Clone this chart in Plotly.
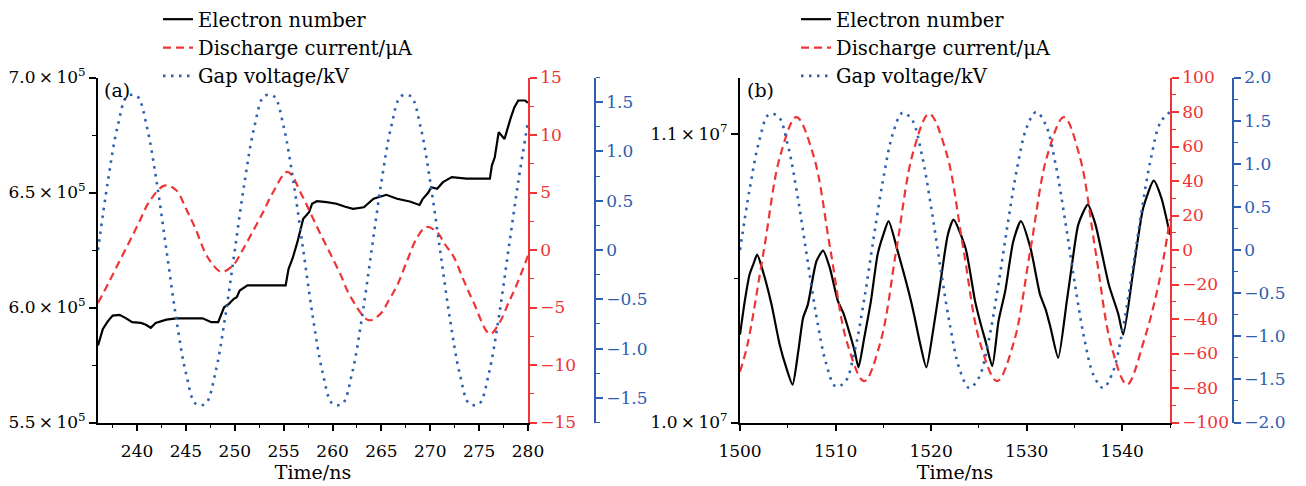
import plotly.graph_objects as go

# ---------------- Panel (a) data ----------------
t_a_volt = list(range(236, 281))
volt_a = [0, 0.69, 1.25, 1.56, 1.56, 1.25, 0.69, 0, -0.69, -1.25, -1.56, -1.56, -1.25, -0.69,
          0, 0.69, 1.25, 1.56, 1.56, 1.25, 0.69, 0, -0.69, -1.25, -1.56, -1.56, -1.25, -0.69,
          0, 0.69, 1.25, 1.56, 1.56, 1.25, 0.69, 0, -0.69, -1.25, -1.56, -1.56, -1.25, -0.69,
          0, 0.69, 1.3]

t_a_curr = [236.0, 237.0, 238.0, 239.2, 240.2, 241.25, 242.8, 244.0, 245.0, 246.0, 247.0, 247.6,
            248.6, 249.8, 250.8, 251.8, 252.9, 253.9, 255.4, 256.9, 257.8, 258.7, 259.7, 260.8,
            261.8, 263.7, 264.9, 265.8, 266.6, 267.6, 268.6, 269.6, 270.7, 271.5, 272.4, 273.4,
            274.4, 276.1, 277.1, 278.0, 278.8, 280.0]
curr_a = [-4.6, -3.0, -1.3, 0.7, 2.4, 4.2, 5.6, 5.2, 3.6, 1.8, -0.3, -1.1,
          -1.9, -1.35, 0.0, 1.55, 3.3, 5.0, 6.8, 4.7, 3.1, 1.5, -0.2, -2.1,
          -4.0, -6.1, -5.55, -4.3, -3.1, -1.0, 1.0, 2.0, 1.55, 0.5, -0.6, -2.6,
          -4.5, -7.3, -6.3, -4.6, -3.1, -0.5]

t_a_elec = [236.0, 236.5, 237.0, 237.5, 238.2, 238.8, 239.5, 240.4, 240.9, 241.4, 241.9, 242.4,
            243.0, 244.0, 245.5, 246.7, 247.6, 248.3, 248.9, 249.4, 249.9, 250.2, 250.5, 251.0,
            251.3, 253.0, 255.2, 255.5, 255.9, 256.4, 257.0, 257.3, 257.6, 257.9, 258.4, 259.4,
            260.4, 261.3, 262.1, 263.2, 264.2, 265.5, 266.6, 267.9, 268.9, 269.2, 269.5, 269.8,
            270.1, 270.7, 271.3, 272.2, 273.7, 276.1, 276.3, 276.6, 277.0, 277.3, 277.6, 278.2,
            278.6, 279.0, 279.7, 280.0]
elec_a = [5.835e5, 5.907e5, 5.940e5, 5.965e5, 5.968e5, 5.955e5, 5.936e5, 5.933e5, 5.925e5, 5.912e5, 5.933e5, 5.938e5,
          5.947e5, 5.953e5, 5.953e5, 5.953e5, 5.936e5, 5.936e5, 6.001e5, 6.016e5, 6.038e5, 6.045e5, 6.074e5, 6.088e5,
          6.096e5, 6.096e5, 6.096e5, 6.168e5, 6.212e5, 6.284e5, 6.386e5, 6.400e5, 6.414e5, 6.451e5, 6.462e5, 6.458e5,
          6.451e5, 6.438e5, 6.429e5, 6.436e5, 6.473e5, 6.490e5, 6.473e5, 6.461e5, 6.446e5, 6.470e5, 6.487e5, 6.500e5,
          6.523e5, 6.516e5, 6.545e5, 6.567e5, 6.560e5, 6.560e5, 6.617e5, 6.653e5, 6.762e5, 6.748e5, 6.733e5, 6.820e5,
          6.870e5, 6.900e5, 6.900e5, 6.890e5]

# ---------------- Panel (b) data ----------------
t_b_volt = list(range(1500, 1546))
volt_b = [0.0, 0.70, 1.26, 1.57, 1.55, 1.22, 0.64, -0.07, -0.77, -1.31, -1.58, -1.53, -1.17, -0.57,
          0.15, 0.83, 1.35, 1.59, 1.51, 1.12, 0.50, -0.22, -0.89, -1.39, -1.60, -1.48, -1.06, -0.43,
          0.29, 0.95, 1.42, 1.60, 1.45, 1.01, 0.36, -0.36, -1.01, -1.45, -1.60, -1.42, -0.95, -0.29,
          0.43, 1.06, 1.48, 1.60]

t_b_curr = [1500.0, 1500.8, 1502.5, 1504.2, 1505.9, 1507.7, 1509.45, 1511.2, 1513.0, 1514.7,
            1516.4, 1518.1, 1519.8, 1521.6, 1523.35, 1525.1, 1526.9, 1528.65, 1530.4, 1532.15,
            1533.9, 1535.55, 1537.2, 1538.85, 1540.5, 1542.3, 1543.8, 1545.0]
curr_b = [-70.5, -54.4, 0.0, 54.4, 77.0, 54.6, 0.5, -53.6, -76.0, -53.3,
          1.5, 56.3, 79.0, 56.3, 1.5, -53.3, -76.0, -53.6, 0.5, 54.6,
          77.0, 54.3, -0.5, -55.3, -78.0, -52.0, -20.0, 18.0]

t_b_elec = [1500.0, 1500.5, 1501.0, 1501.4, 1501.8, 1502.4, 1503.3, 1504.15, 1504.85, 1505.5,
            1506.1, 1506.6, 1507.1, 1508.0, 1508.7, 1509.4, 1510.25, 1510.8, 1511.3, 1512.0,
            1512.4, 1513.0, 1513.7, 1514.4, 1515.0, 1515.55, 1516.5, 1517.9, 1518.3, 1518.8,
            1519.5, 1520.2, 1521.05, 1521.75, 1522.35, 1523.6, 1524.6, 1525.2, 1525.7, 1526.4,
            1527.05, 1527.75, 1528.6, 1529.4, 1530.4, 1531.4, 1532.0, 1532.5, 1533.3, 1534.2,
            1534.8, 1535.4, 1536.4, 1537.2, 1538.6, 1539.6, 1540.1, 1541.2, 1542.2, 1543.3,
            1544.1, 1545.0]
elec_b = [1.0304e7, 1.0420e7, 1.0512e7, 1.0548e7, 1.0581e7, 1.0523e7, 1.0408e7, 1.0270e7, 1.0189e7, 1.0131e7,
          1.0247e7, 1.0362e7, 1.0408e7, 1.0558e7, 1.0595e7, 1.0535e7, 1.0420e7, 1.0380e7, 1.0328e7, 1.0247e7,
          1.0191e7, 1.0293e7, 1.0420e7, 1.0581e7, 1.0650e7, 1.0697e7, 1.0593e7, 1.0420e7, 1.0360e7, 1.0281e7,
          1.0191e7, 1.0316e7, 1.0501e7, 1.0650e7, 1.0702e7, 1.0604e7, 1.0420e7, 1.0340e7, 1.0281e7, 1.0195e7,
          1.0350e7, 1.0454e7, 1.0627e7, 1.0697e7, 1.0604e7, 1.0443e7, 1.0390e7, 1.0328e7, 1.0224e7, 1.0420e7,
          1.0560e7, 1.0685e7, 1.0754e7, 1.0685e7, 1.0477e7, 1.0374e7, 1.0304e7, 1.0535e7, 1.0743e7, 1.0837e7,
          1.0777e7, 1.0650e7]

# tick labels
ticks_a_left = [5.5e5, 6.0e5, 6.5e5, 7.0e5]
ticktext_a_left = ["5.5\u2009×\u200910<sup>5</sup>", "6.0\u2009×\u200910<sup>5</sup>",
                   "6.5\u2009×\u200910<sup>5</sup>", "7.0\u2009×\u200910<sup>5</sup>"]
ticks_a_curr = [-15, -10, -5, 0, 5, 10, 15]
ticktext_a_curr = ["−15", "−10", "−5", "0", "5", "10", "15"]
ticks_a_volt = [-1.5, -1.0, -0.5, 0, 0.5, 1.0, 1.5]
ticktext_a_volt = ["−1.5", "−1.0", "−0.5", "0", "0.5", "1.0", "1.5"]
ticks_b_left = [1.0e7, 1.1e7]
ticktext_b_left = ["1.0\u2009×\u200910<sup>7</sup>", "1.1\u2009×\u200910<sup>7</sup>"]
ticks_b_curr = [-100, -80, -60, -40, -20, 0, 20, 40, 60, 80, 100]
ticktext_b_curr = ["−100", "−80", "−60", "−40", "−20", "0", "20", "40", "60", "80", "100"]
ticks_b_volt = [-2.0, -1.5, -1.0, -0.5, 0, 0.5, 1.0, 1.5, 2.0]
ticktext_b_volt = ["−2.0", "−1.5", "−1.0", "−0.5", "0", "0.5", "1.0", "1.5", "2.0"]

RED = "#EE3434"
BLUE = "#2E5EB0"
FONT = "DejaVu Serif"
TS = 17
W, H = 1306, 486

fig = go.Figure()

def add_set(tx_v, v, tx_c, c, tx_e, e, xa, ye, yc, yv, leg, eshape):
    fig.add_trace(go.Scatter(x=tx_e, y=e, mode="lines", name="Electron number",
                             line=dict(color="black", width=2.2, shape=eshape, smoothing=0.6),
                             xaxis=xa, yaxis=ye, legend=leg, legendgroup=leg + "e"))
    fig.add_trace(go.Scatter(x=tx_c, y=c, mode="lines", name="Discharge current/μA",
                             line=dict(color=RED, width=2.2, dash="8px,5px", shape="spline"),
                             xaxis=xa, yaxis=yc, legend=leg, legendgroup=leg + "c"))
    fig.add_trace(go.Scatter(x=tx_v, y=v, mode="lines", name="Gap voltage/kV",
                             line=dict(color=BLUE, width=2.6, dash="2.5px,5.5px", shape="spline"),
                             xaxis=xa, yaxis=yv, legend=leg, legendgroup=leg + "v"))

add_set(t_a_volt, volt_a, t_a_curr, curr_a, t_a_elec, elec_a, "x", "y", "y2", "y3", "legend", "linear")
add_set(t_b_volt, volt_b, t_b_curr, curr_b, t_b_elec, elec_b, "x2", "y4", "y5", "y6", "legend2", "spline")

ydom = [(H - 422.5) / H, (H - 77.5) / H]

def yax(color, rng, tv, tt, mdt, m0, **kw):
    d = dict(range=rng, tickmode="array", tickvals=tv, ticktext=tt, showgrid=False, zeroline=False,
             automargin=False,
             showline=True, linecolor=color, linewidth=1.8, ticks="outside", ticklen=7,
             tickwidth=1.6, tickcolor=color, tickfont=dict(family=FONT, size=TS, color=color),
             minor=dict(ticks="outside", ticklen=4, tickwidth=1.4, tickcolor=color,
                        tickmode="linear", dtick=mdt, tick0=m0))
    d.update(kw)
    return d

def xax(dom, rng, dt, mdt, anchor):
    return dict(domain=dom, range=rng, anchor=anchor, showgrid=False, zeroline=False,
                automargin=False,
                showline=True, linecolor="black", linewidth=1.8, ticks="outside", ticklen=7,
                tickwidth=1.6, tickcolor="black", tickmode="linear", dtick=dt, tick0=0,
                ticklabelstandoff=5,
                tickfont=dict(family=FONT, size=TS, color="black"),
                minor=dict(ticks="outside", ticklen=4, tickwidth=1.4,
                           tickcolor="black", tickmode="linear", dtick=mdt, tick0=0),
                title=dict(text="Time/ns", font=dict(family=FONT, size=19, color="black"), standoff=3))

fig.update_layout(
    width=W, height=H, margin=dict(l=0, r=0, t=0, b=0),
    paper_bgcolor="white", plot_bgcolor="white",
    font=dict(family=FONT, size=TS, color="black"),
    xaxis=xax([98 / W, 528 / W], [236, 280], 5, 2.5, "y"),
    xaxis2=xax([740 / W, 1170 / W], [1500, 1545], 10, 5, "y4"),
    yaxis=yax("black", [5.5e5, 7.0e5], ticks_a_left, ticktext_a_left, 2.5e4, 5.5e5,
              domain=ydom, anchor="x"),
    yaxis2=yax(RED, [-15, 15], ticks_a_curr, ticktext_a_curr, 2.5, 0,
               overlaying="y", side="right", anchor="x"),
    yaxis3=yax(BLUE, [-1.75, 1.75], ticks_a_volt, ticktext_a_volt, 0.25, 0,
               overlaying="y", side="right", anchor="free", position=595 / W),
    yaxis4=yax("black", [1.0e7, 1.1194e7], ticks_b_left, ticktext_b_left, 5e5, 1.0e7,
               domain=ydom, anchor="x2"),
    yaxis5=yax(RED, [-100, 100], ticks_b_curr, ticktext_b_curr, 10, 0,
               overlaying="y4", side="right", anchor="x2"),
    yaxis6=yax(BLUE, [-2, 2], ticks_b_volt, ticktext_b_volt, 0.25, 0,
               overlaying="y4", side="right", anchor="free", position=1233 / W),
    legend=dict(x=158 / W, y=1.0, xanchor="left", yanchor="top", bgcolor="rgba(0,0,0,0)",
                font=dict(family=FONT, size=19.5, color="black"), tracegroupgap=0, traceorder="grouped"),
    legend2=dict(x=796 / W, y=1.0, xanchor="left", yanchor="top", bgcolor="rgba(0,0,0,0)",
                 font=dict(family=FONT, size=19.5, color="black"), tracegroupgap=0, traceorder="grouped"),
    showlegend=True,
    annotations=[
        dict(text="(a)", x=102 / W, y=(H - 90) / H, xref="paper", yref="paper", xanchor="left",
             yanchor="middle", showarrow=False, font=dict(family=FONT, size=19, color="black")),
        dict(text="(b)", x=745 / W, y=(H - 90) / H, xref="paper", yref="paper", xanchor="left",
             yanchor="middle", showarrow=False, font=dict(family=FONT, size=19, color="black")),
    ],
)

fig.write_html("out.html", config={"displayModeBar": False},
               post_script="document.body.style.margin='0';")
